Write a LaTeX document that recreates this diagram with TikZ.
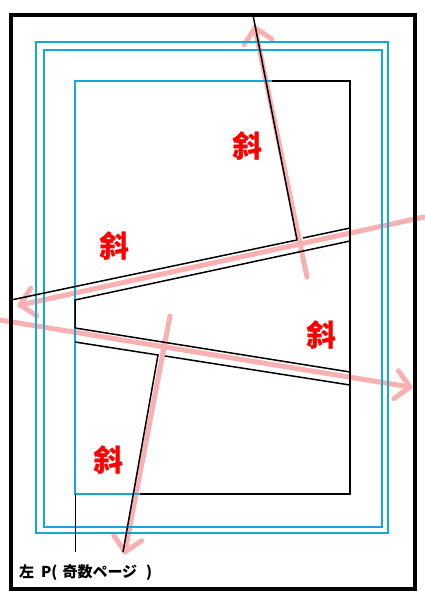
\documentclass[tikz,border=0pt]{standalone}
\usepackage{fontspec}
\newfontfamily\cjk{Noto Sans CJK SC}
\newfontfamily\cjkjp{Noto Sans CJK JP}
\usetikzlibrary{calc}
\definecolor{pinkarrow}{RGB}{248,176,176}
\definecolor{guideblue}{RGB}{18,168,216}
\definecolor{markred}{RGB}{255,0,0}
\tikzset{
  pinkline/.style={draw=pinkarrow,line width=5pt,line cap=round,line join=round},
  frameline/.style={draw=black,line width=4pt},
  guideline/.style={draw=guideblue,line width=1.4pt},
  innerguide/.style={draw=guideblue,line width=2pt},
  panelline/.style={draw=black,line width=1.5pt},
  thinline/.style={draw=black,line width=1pt},
  redmark/.style={text=markred,font=\cjk\bfseries\fontsize{30}{30}\selectfont,inner sep=0pt},
  pagelabel/.style={text=black,font=\cjkjp\bfseries\fontsize{15}{15}\selectfont,inner sep=0pt,anchor=west}
}
\begin{document}
\begin{tikzpicture}[x=1pt,y=-1pt]
\useasboundingbox (0,0) rectangle (424,600);
\fill[white] (0,0) rectangle (424,600);

% pink reading-direction arrows
\coordinate (upT) at (307,277);
\coordinate (upH) at (255,28);
\coordinate (lfT) at (424,217);
\coordinate (lfH) at (20,305);
\coordinate (rtT) at (0,320);
\coordinate (rtH) at (410,387);
\coordinate (dnT) at (170,316);
\coordinate (dnH) at (125,552);
\foreach \t/\h in {upT/upH,lfT/lfH,rtT/rtH,dnT/dnH}{
  \draw[pinkline] (\t) -- (\h);
  \draw[pinkline] ($(\h)!20pt!45:(\t)$) -- (\h) -- ($(\h)!20pt!-45:(\t)$);
}

% outer frame
\draw[frameline] (11,15) rectangle (415,589);
% guide rectangles
\draw[guideline] (36,42) rectangle (388,533);
\draw[guideline] (44,50) rectangle (382,527);
\draw[innerguide] (75,81) rectangle (350,494);

% panel borders
\coordinate (a1) at (253,15);
\coordinate (a2) at (297,240);
\coordinate (b1) at (11,300);
\coordinate (c1) at (303,238);
\coordinate (c2) at (350,228);
\coordinate (d1) at (75,300);
\coordinate (d2) at (350,241);
\coordinate (e1) at (75,328);
\coordinate (e2) at (350,372);
\coordinate (f1) at (75,342);
\coordinate (f2) at (158,355);
\coordinate (g1) at (165,356);
\coordinate (g2) at (350,385);
\coordinate (h2) at (123,552);
\coordinate (tr1) at (272,81);
\coordinate (tr2) at (350,81);
\coordinate (br1) at (140,494);
\coordinate (br2) at (350,494);
\coordinate (lp1) at (75,494);
\coordinate (lp2) at (75,552);

\draw[panelline] (a1) -- (a2);
\draw[panelline] (b1) -- (a2);
\draw[panelline] (c1) -- (c2);
\draw[panelline] (e1) -- (d1) -- (d2);
\draw[panelline] (e1) -- (e2);
\draw[panelline] (f1) -- (f2) -- (h2);
\draw[panelline] (g1) -- (g2);
\draw[panelline] (tr1) -- (tr2) -- (br2) -- (br1);
\draw[thinline] (lp1) -- (lp2);

% labels
\node[redmark] (m1) at (247,146) {斜};
\node[redmark] (m2) at (114,246) {斜};
\node[redmark] (m3) at (321,335) {斜};
\node[redmark] (m4) at (108,460) {斜};
\node[pagelabel] (pl) at (19,573) {左\hspace{7pt}P(\hspace{5pt}奇数ページ\hspace{9pt})};
\end{tikzpicture}
\end{document}
